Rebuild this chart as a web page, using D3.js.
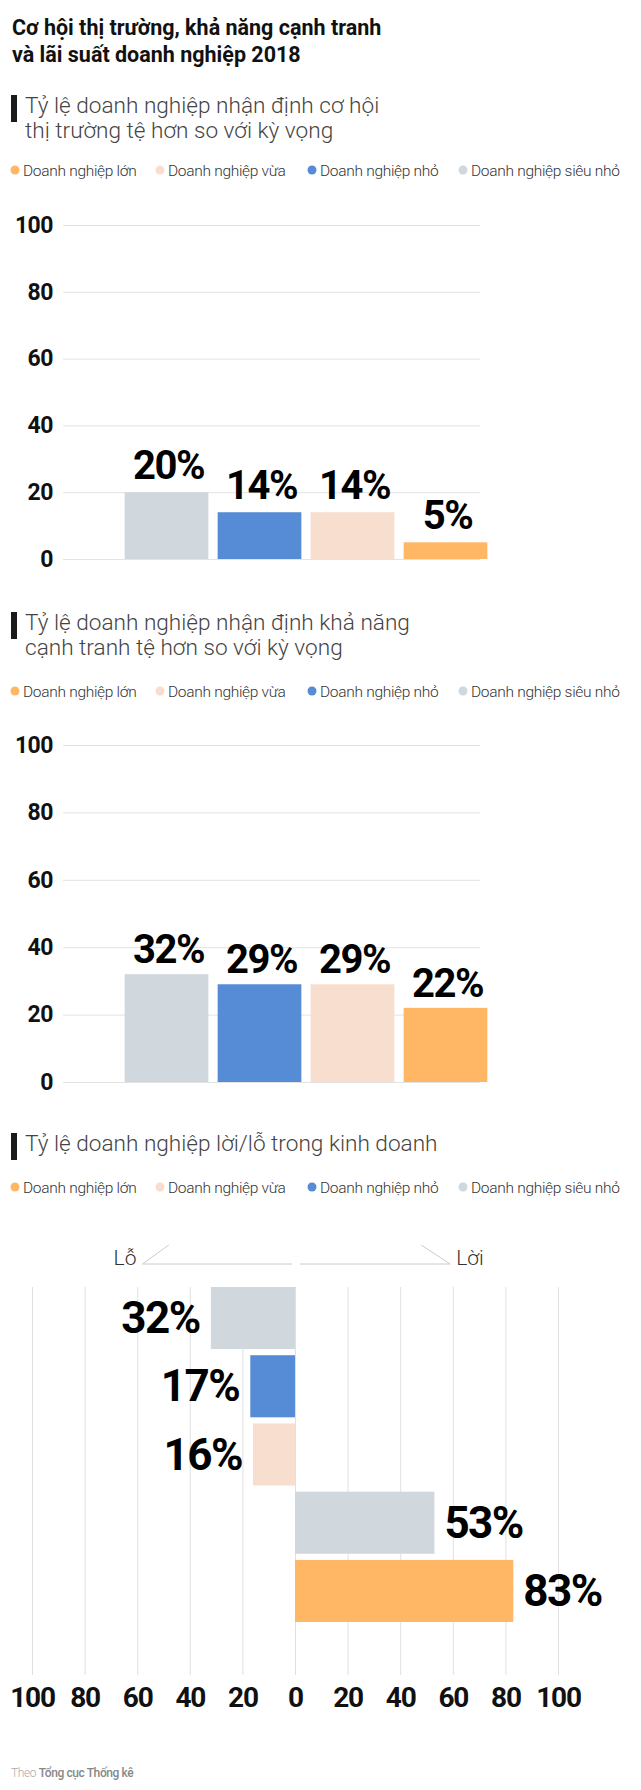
<!DOCTYPE html>
<html>
<head>
<meta charset="utf-8">
<script src="https://cdn.jsdelivr.net/npm/d3@7"></script>
<style>
  body { margin: 0; background: #fff; }
  svg { display: block; font-family: Roboto, "Noto Sans", sans-serif; }
</style>
</head>
<body>
<svg id="chart" width="641" height="1790"></svg>
<script>
// legend groups and colours
const groups = ["Doanh nghiệp lớn", "Doanh nghiệp vừa", "Doanh nghiệp nhỏ", "Doanh nghiệp siêu nhỏ"];
const groupColors = ["#ffb766", "#f8dece", "#568bd6", "#d0d7dd"];

// column charts: bar order left to right
const barGroups = ["Doanh nghiệp siêu nhỏ", "Doanh nghiệp nhỏ", "Doanh nghiệp vừa", "Doanh nghiệp lớn"];
const marketValues = [20, 14, 14, 5];
const competeValues = [32, 29, 29, 22];
const yTicks = [0, 20, 40, 60, 80, 100];

// profit / loss chart rows, top to bottom
const profitGroups = ["Doanh nghiệp siêu nhỏ", "Doanh nghiệp nhỏ", "Doanh nghiệp vừa", "Doanh nghiệp siêu nhỏ", "Doanh nghiệp lớn"];
const profitSides = ["Lỗ", "Lỗ", "Lỗ", "Lời", "Lời"];
const profitValues = [32, 17, 16, 53, 83];
const xTicks = [-100, -80, -60, -40, -20, 0, 20, 40, 60, 80, 100];

const svg = d3.select("#chart");
const color = d3.scaleOrdinal().domain(groups).range(groupColors);

// Title
const title = svg.append("text")
  .attr("font-size", 21.5)
  .attr("font-weight", 700)
  .attr("fill", "#111");
title.append("tspan").attr("x", 12).attr("y", 35).text("Cơ hội thị trường, khả năng cạnh tranh");
title.append("tspan").attr("x", 12).attr("y", 62).text("và lãi suất doanh nghiệp 2018");

function header(lines, barTop, legendY) {
  svg.append("rect")
    .attr("x", 11).attr("y", barTop)
    .attr("width", 6).attr("height", 27)
    .attr("fill", "#1a1a1a");
  const t = svg.append("text")
    .attr("font-size", 22.6)
    .attr("font-weight", 300)
    .attr("fill", "#444");
  lines.forEach((l, i) => {
    t.append("tspan").attr("x", 25).attr("y", barTop + 18 + i * 25).text(l);
  });

  const legendX = [15, 160, 312, 463];
  const lg = svg.append("g").selectAll("g")
    .data(groups)
    .enter().append("g")
    .attr("transform", (d, i) => `translate(${legendX[i]},${legendY})`);
  lg.append("circle").attr("r", 4.5).attr("fill", d => color(d));
  lg.append("text")
    .attr("x", 8).attr("y", 5.5)
    .attr("font-size", 15.5)
    .attr("font-weight", 300)
    .attr("fill", "#333")
    .attr("letter-spacing", -0.3)
    .text(d => d);
}

function columnChart(values, top, bottom, labelGap) {
  const y = d3.scaleLinear().domain([0, 100]).range([bottom, top]);
  const x = d3.scaleBand().domain(barGroups).range([120, 492])
    .paddingInner(0.1).paddingOuter(0.05);

  const axis = svg.append("g")
    .attr("transform", "translate(63,0)")
    .call(d3.axisLeft(y).tickValues(yTicks).tickSize(-(480 - 63)).tickPadding(10));
  axis.select(".domain").remove();
  axis.selectAll(".tick line").attr("stroke", "#e3e3e3");
  axis.selectAll(".tick text")
    .attr("font-size", 23)
    .attr("font-weight", 700)
    .attr("font-family", "Roboto, sans-serif")
    .attr("letter-spacing", -0.5)
    .attr("fill", "#111");

  svg.append("g").selectAll("rect")
    .data(values)
    .enter().append("rect")
    .attr("x", (d, i) => x(barGroups[i]))
    .attr("y", d => y(d))
    .attr("width", x.bandwidth())
    .attr("height", d => bottom - y(d))
    .attr("fill", (d, i) => color(barGroups[i]));

  svg.append("g").selectAll("text")
    .data(values)
    .enter().append("text")
    .attr("x", (d, i) => x(barGroups[i]) + x.bandwidth() / 2 + 2)
    .attr("y", d => y(d) - labelGap)
    .attr("text-anchor", "middle")
    .attr("font-size", 40)
    .attr("font-weight", 700)
    .attr("letter-spacing", -1.5)
    .attr("fill", "#000")
    .text(d => d + "%");
}

// Chart 1
header(["Tỷ lệ doanh nghiệp nhận định cơ hội", "thị trường tệ hơn so với kỳ vọng"], 95, 170);
columnChart(marketValues, 225, 559, 13);

// Chart 2
header(["Tỷ lệ doanh nghiệp nhận định khả năng", "cạnh tranh tệ hơn so với kỳ vọng"], 612, 691);
columnChart(competeValues, 745, 1082, 11);

// Chart 3
header(["Tỷ lệ doanh nghiệp lời/lỗ trong kinh doanh"], 1133, 1187);

const gridTop = 1287, gridBottom = 1675;
const x3 = d3.scaleLinear().domain([-100, 100]).range([32, 558]);
const y3 = d3.scaleBand().domain(d3.range(profitValues.length)).range([gridTop, 1622]).paddingInner(0.09);

const xAxis = svg.append("g")
  .attr("transform", `translate(0,${gridBottom})`)
  .call(d3.axisBottom(x3).tickValues(xTicks).tickFormat(d => Math.abs(d))
    .tickSize(-(gridBottom - gridTop)).tickPadding(12));
xAxis.select(".domain").remove();
xAxis.selectAll(".tick line").attr("stroke", "#e0e0e0");
xAxis.selectAll(".tick text")
  .attr("font-size", 28)
  .attr("font-weight", 700)
  .attr("font-family", "Roboto, sans-serif")
  .attr("letter-spacing", -1.2)
  .attr("fill", "#111");

// Lỗ / Lời direction markers
const zero = x3(0);
const dir = svg.append("g").attr("stroke", "#ccc").attr("fill", "none");
dir.append("path").attr("d", `M${zero - 3},1264H${x3(-58)}L${x3(-48)},1245`);
dir.append("path").attr("d", `M${zero + 5},1264H${x3(59)}L${x3(48)},1245`);
svg.append("text").attr("x", x3(-58) - 6).attr("y", 1265)
  .attr("text-anchor", "end").attr("font-size", 21).attr("font-weight", 300).attr("fill", "#333")
  .text("Lỗ");
svg.append("text").attr("x", x3(59) + 6).attr("y", 1265)
  .attr("font-size", 21).attr("font-weight", 300).attr("fill", "#333")
  .text("Lời");

svg.append("g").selectAll("rect")
  .data(profitValues)
  .enter().append("rect")
  .attr("x", (d, i) => profitSides[i] === "Lỗ" ? x3(-d) : zero)
  .attr("y", (d, i) => y3(i))
  .attr("width", d => x3(d) - zero)
  .attr("height", y3.bandwidth())
  .attr("fill", (d, i) => color(profitGroups[i]));

svg.append("g").selectAll("text")
  .data(profitValues)
  .enter().append("text")
  .attr("x", (d, i) => profitSides[i] === "Lỗ" ? x3(-d) - 11 : x3(d) + 10)
  .attr("y", (d, i) => y3(i) + y3.bandwidth() / 2 + 15)
  .attr("text-anchor", (d, i) => profitSides[i] === "Lỗ" ? "end" : "start")
  .attr("font-size", 44)
  .attr("font-weight", 700)
  .attr("letter-spacing", -1.5)
  .attr("fill", "#000")
  .text(d => d + "%");

// Source
const src = svg.append("text").attr("x", 11).attr("y", 1777)
  .attr("font-size", 12).attr("letter-spacing", -0.4);
src.append("tspan").attr("fill", "#aaa").attr("font-weight", 300).text("Theo ");
src.append("tspan").attr("fill", "#888").attr("font-weight", 500).text("Tổng cục Thống kê");
</script>
</body>
</html>
